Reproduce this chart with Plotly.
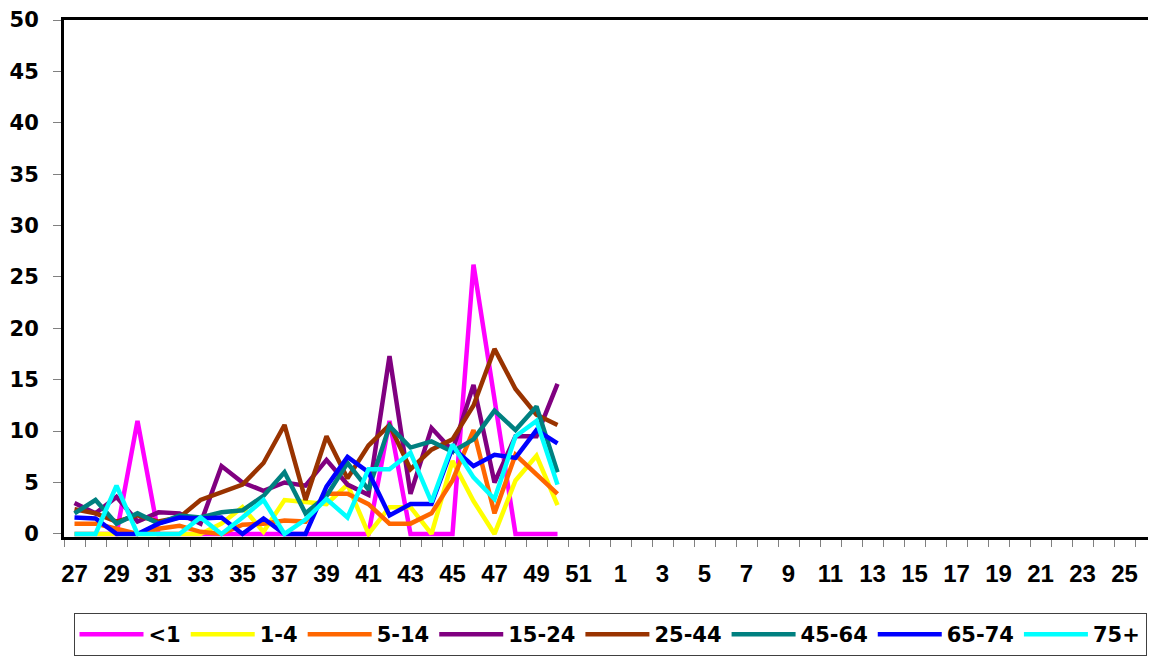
import plotly.graph_objects as go

weeks = [str(w) for w in list(range(27, 53)) + list(range(1, 27))]
data_weeks = [str(w) for w in range(27, 51)]

lt1 = [0, 0, 0, 11, 0, 0, 0, 0, 0, 0, 0, 0, 0, 0, 0, 11, 0, 0, 0, 26.2, 13, 0, 0, 0]
a1_4 = [0, 0, 0, 0, 0, 0, 0, 1, 2.6, 0.2, 3.3, 3.1, 2.9, 4.8, 0, 2.6, 2.6, 0, 7.1, 3.2, 0, 5.2, 7.6, 2.8]
a5_14 = [1.0, 1.0, 0.5, 0, 0.5, 0.8, 0.2, 0, 0.9, 1.0, 1.3, 1.2, 3.9, 3.9, 2.9, 1.0, 1.0, 2.0, 5.2, 10.1, 2.0, 7.7, 5.8, 3.9]
a15_24 = [3.0, 2.0, 3.6, 1.2, 2.1, 2.0, 1.0, 6.6, 5.0, 4.2, 5.0, 4.7, 7.2, 4.8, 3.8, 17.3, 3.9, 10.3, 8.1, 14.5, 5.0, 9.5, 9.5, 14.6]
a25_44 = [2.4, 2.0, 1.2, 1.8, 1.2, 1.6, 3.3, 4.0, 4.8, 6.9, 10.6, 3.3, 9.5, 5.4, 8.6, 10.6, 6.3, 8.2, 9.2, 12.5, 18.0, 14.1, 11.6, 10.6]
a45_64 = [2.0, 3.3, 1.0, 2.0, 1.0, 1.8, 1.6, 2.1, 2.3, 3.7, 6.0, 2.0, 3.7, 6.9, 4.3, 10.5, 8.4, 9.0, 8.0, 9.2, 12.0, 10.1, 12.4, 6.0]
a65_74 = [1.6, 1.5, 0, 0, 1.0, 1.6, 1.5, 1.6, 0, 1.5, 0, 0, 4.6, 7.5, 6.0, 1.8, 2.9, 2.9, 8.4, 6.6, 7.7, 7.4, 10.1, 8.8]
a75p = [0, 0, 4.7, 0, 0, 0, 1.6, 0, 1.6, 3.3, 0, 1.4, 3.4, 1.6, 6.3, 6.3, 7.9, 3.1, 8.7, 5.5, 3.4, 9.5, 11.0, 4.8]

series_names = ["<1", "1-4", "5-14", "15-24", "25-44", "45-64", "65-74", "75+"]
series_values = [lt1, a1_4, a5_14, a15_24, a25_44, a45_64, a65_74, a75p]
colors = ["#FF00FF", "#FFFF00", "#FF6600", "#800080", "#993300", "#008080", "#0000FF", "#00FFFF"]

tick_text = [w if i % 2 == 0 else "" for i, w in enumerate(weeks)]
y_ticks = list(range(0, 51, 5))

fig = go.Figure()
for name, vals, col in zip(series_names, series_values, colors):
    fig.add_trace(go.Scatter(x=data_weeks, y=vals, name=name, mode="lines",
                             line=dict(color=col, width=4.5)))

fig.update_layout(
    width=1148, height=648,
    margin=dict(l=56, r=0, t=9, b=116),
    paper_bgcolor="white", plot_bgcolor="white",
    font=dict(family="Liberation Sans", color="black"),
    xaxis=dict(type="category", categoryorder="array", categoryarray=weeks,
               range=[-0.5, len(weeks) - 0.5],
               tickmode="array", tickvals=weeks, ticktext=tick_text,
               tickson="boundaries", ticks="outside", ticklen=7, tickcolor="#808080",
               tickwidth=1, tickangle=0,
               tickfont=dict(size=24, family="Liberation Sans", weight="bold"),
               ticklabelstandoff=13,
               showline=True, linecolor="black", linewidth=3, mirror=True,
               showgrid=False, zeroline=False, layer="below traces"),
    yaxis=dict(range=[-0.3, 50], tickmode="array", tickvals=y_ticks,
               ticks="outside", ticklen=8, tickcolor="#808080", tickwidth=1,
               tickfont=dict(size=21, family="DejaVu Sans", weight="bold"),
               ticklabelstandoff=10, ticklabeloverflow="allow",
               showline=True, linecolor="black", linewidth=3,
               showgrid=False, zeroline=False, layer="below traces"),
    legend=dict(orientation="h", x=0.5, xanchor="center", y=-0.147, yanchor="top",
                bordercolor="#404040", borderwidth=1,
                font=dict(size=21, family="DejaVu Sans", weight="bold"),
                itemwidth=64, traceorder="normal"),
    showlegend=True,
)

fig.write_html("out.html")
